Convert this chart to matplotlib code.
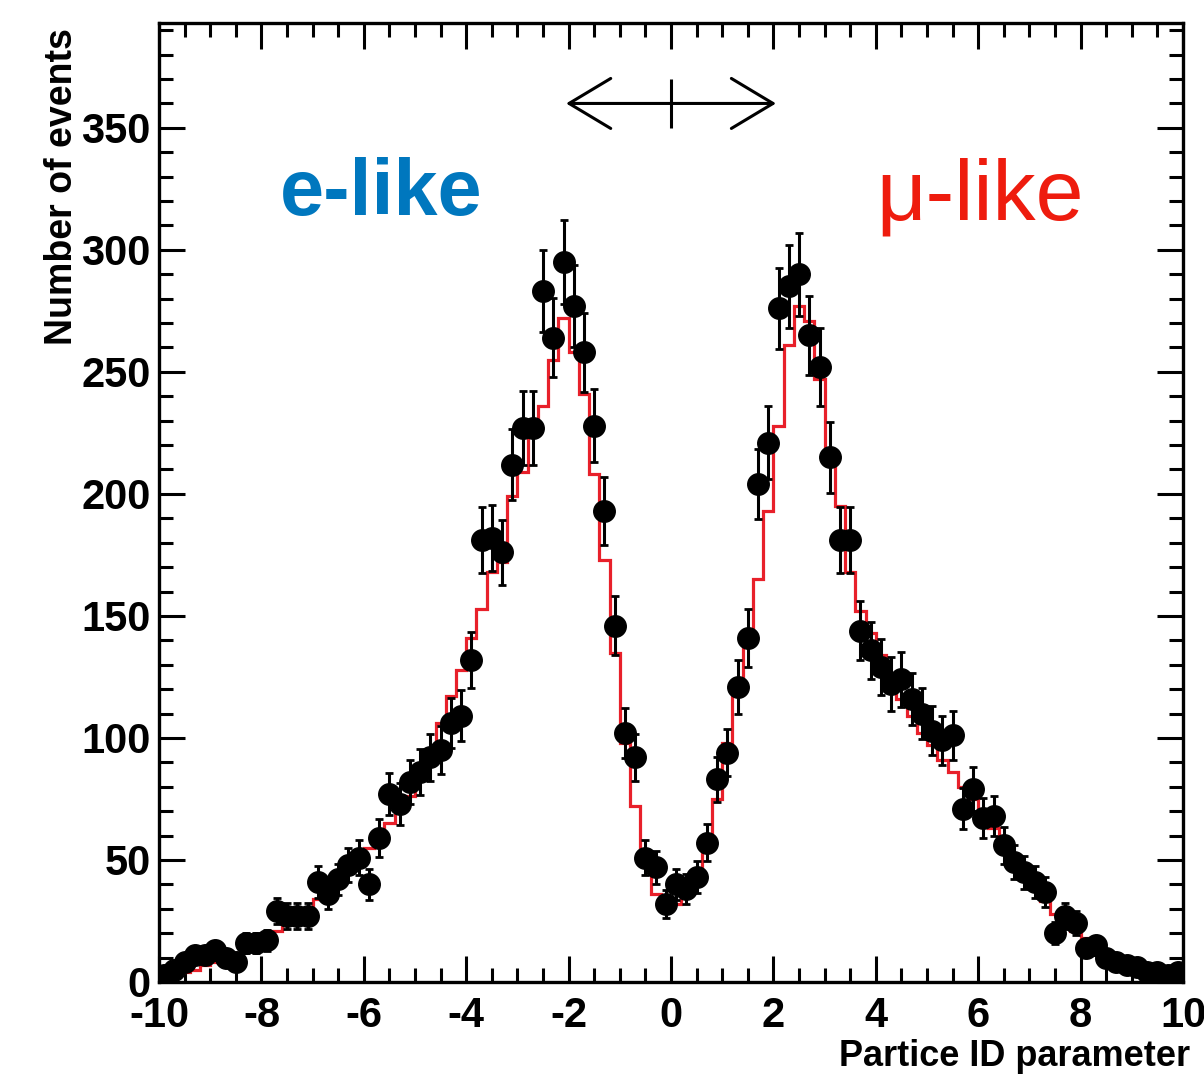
import numpy as np
import matplotlib
matplotlib.use("Agg")
import matplotlib.pyplot as plt
from matplotlib.ticker import MultipleLocator

plt.rcParams['font.family'] = ['Liberation Sans', 'DejaVu Sans']
plt.rcParams['axes.unicode_minus'] = False

# 100 bins of 0.2 between -10 and 10
bin_edges = np.linspace(-10, 10, 101)

# observed counts (black points), bin by bin from left to right
data_counts = [
    3, 5, 8, 11, 11, 13, 10, 8, 16, 16,
    17, 29, 27, 27, 27, 41, 36, 42, 48, 51,
    40, 59, 77, 73, 82, 86, 92, 95, 106, 109,
    132, 181, 182, 176, 212, 227, 227, 283, 264, 295,
    277, 258, 228, 193, 146, 102, 92, 51, 47, 32,
    40, 38, 43, 57, 83, 94, 121, 141, 204, 221,
    276, 285, 290, 265, 252, 215, 181, 181, 144, 136,
    129, 122, 124, 116, 110, 103, 99, 101, 71, 79,
    67, 68, 56, 49, 45, 41, 37, 20, 27, 24,
    14, 15, 10, 8, 7, 6, 4, 4, 3, 4,
]

# simulated expectation (red histogram)
mc_counts = [
    2, 3, 4, 5, 7, 8, 10, 12, 14, 16,
    18, 21, 24, 27, 30, 34, 38, 42, 46, 50,
    55, 60, 65, 71, 76, 83, 92, 106, 117, 128,
    141, 153, 168, 172, 199, 209, 224, 236, 255, 272,
    258, 241, 208, 173, 135, 98, 72, 48, 36, 29,
    32, 37, 44, 58, 75, 98, 118, 140, 165, 193,
    228, 261, 277, 271, 247, 217, 195, 168, 152, 143,
    134, 124, 116, 109, 102, 97, 91, 86, 80, 75,
    70, 63, 57, 51, 45, 39, 33, 28, 24, 21,
    18, 15, 12, 9, 7, 6, 4, 3.5, 3, 2.5,
]

# selection window marked by the arrow on top
cut_lo, cut_hi = -2.05, 2.05
arrow_y = 360

data_counts = np.array(data_counts, dtype=float)
centers = 0.5 * (bin_edges[:-1] + bin_edges[1:])

fig = plt.figure(figsize=(12.04, 10.76), dpi=100)
ax = fig.add_axes([0.1321, 0.0874, 0.8505, 0.8913])

# MC histogram
ax.stairs(mc_counts, bin_edges, color='#E8202A', lw=2.3, zorder=2)

# data with poisson errors
ax.errorbar(centers, data_counts, yerr=np.sqrt(data_counts), fmt='o',
            color='black', ms=15.5, elinewidth=2.2, capsize=3, capthick=2,
            zorder=3)

# arrow showing the cut region
ax.annotate('', xy=(cut_hi, arrow_y), xytext=(cut_lo, arrow_y),
            arrowprops=dict(arrowstyle='<->,head_length=1.5,head_width=0.9',
                            lw=2.2, color='black', shrinkA=0, shrinkB=0,
                            mutation_scale=20))
ax.vlines(0.5 * (cut_lo + cut_hi), arrow_y - 10, arrow_y + 10,
          color='black', lw=2.2)

ax.text(0.118, 0.80, 'e-like', transform=ax.transAxes, fontsize=57,
        fontweight='bold', color='#0077BE', va='baseline', ha='left')
ax.text(0.700, 0.795, 'μ-like', transform=ax.transAxes, fontsize=62,
        color='#EE1C0E', va='baseline', ha='left')

ax.set_xlim(-10, 10)
ax.set_ylim(0, 393)

ax.xaxis.set_major_locator(MultipleLocator(2))
ax.xaxis.set_minor_locator(MultipleLocator(0.5))
ax.yaxis.set_major_locator(MultipleLocator(50))
ax.yaxis.set_minor_locator(MultipleLocator(10))

ax.tick_params(which='both', direction='in', top=True, right=True, width=2.2)
ax.tick_params(which='major', length=19)
ax.tick_params(which='minor', length=10)
ax.tick_params(axis='y', which='major', pad=6)
ax.tick_params(axis='x', which='major', pad=10)
for lab in ax.get_xticklabels() + ax.get_yticklabels():
    lab.set_fontsize(30)
    lab.set_fontweight('bold')
for sp in ax.spines.values():
    sp.set_linewidth(2.4)

ax.set_xlabel('Partice ID parameter', loc='right', fontsize=26,
              fontweight='bold')
ax.xaxis.set_label_coords(1.007, -0.06)
ax.set_ylabel('Number of events', loc='top', fontsize=27, fontweight='bold')
ax.yaxis.set_label_coords(-0.077, 0.995)

plt.savefig('out.png', dpi=100)
